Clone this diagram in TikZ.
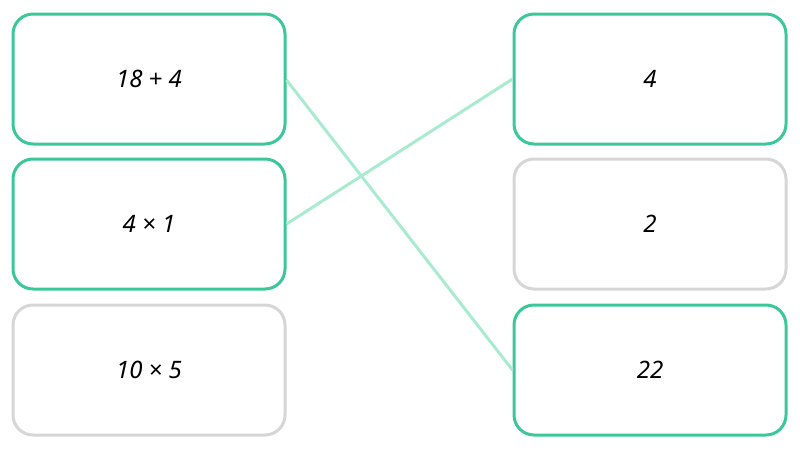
\documentclass[tikz,border=0pt]{standalone}
\usepackage{fontspec}
\setmainfont{Noto Sans}
\definecolor{grn}{HTML}{3CC79A}
\definecolor{gry}{HTML}{D6D6D6}
\definecolor{lgrn}{HTML}{A8EBCF}
\begin{document}
\begin{tikzpicture}[x=1pt,y=-1pt,
  card/.style={draw=#1,line width=3pt,rounded corners=20pt,minimum width=272pt,minimum height=130pt,font=\fontsize{24}{28}\selectfont\itshape,fill=white},
  link/.style={draw=lgrn,line width=3pt}]
\useasboundingbox (0,0) rectangle (800,450);
\node[card=grn] (l1) at (149,79) {18 + 4};
\node[card=grn] (l2) at (149,224) {4 × 1};
\node[card=gry] (l3) at (149,370) {10 × 5};
\node[card=grn] (r1) at (650,79) {4};
\node[card=gry] (r2) at (650,224) {2};
\node[card=grn] (r3) at (650,370) {22};
\draw[link] (l1.east) ++(0,1) coordinate (a) (a) -- (r3.west);
\draw[link] (l2.east) -- (r1.west);
\end{tikzpicture}
\end{document}
